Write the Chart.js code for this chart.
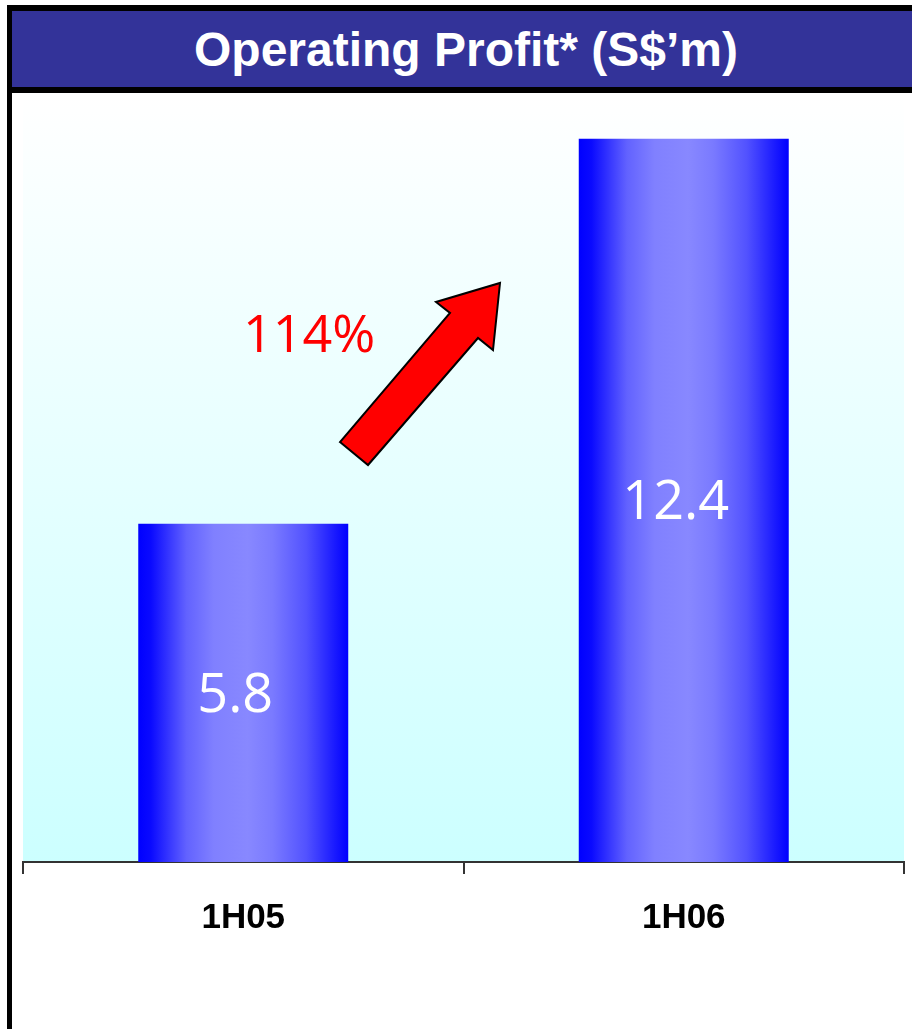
<!DOCTYPE html>
<html>
<head>
<meta charset="utf-8">
<script src="https://cdn.jsdelivr.net/npm/chart.js@4.4.1/dist/chart.umd.min.js"></script>
<style>
html,body{margin:0;padding:0;width:912px;height:1029px;overflow:hidden;background:#fff;}
#title{position:absolute;left:7px;top:5px;width:908px;height:76px;background:#333399;border-top:6px solid #000;border-bottom:6px solid #000;border-left:5px solid #000;color:#fff;font:bold 48px "Liberation Sans",Arial,sans-serif;display:flex;align-items:center;justify-content:center;z-index:2;white-space:nowrap;}
#leftline{position:absolute;left:7px;top:93px;width:5px;height:936px;background:#000;z-index:2;}
#wrap{position:absolute;left:0;top:0;width:912px;height:1029px;z-index:1;}
</style>
</head>
<body>
<div id="title">Operating Profit* (S$’m)</div>
<div id="leftline"></div>
<div id="wrap"><canvas id="c" width="912" height="1029"></canvas></div>
<script>
const categories = ['1H05', '1H06'];
const operatingProfit = [5.8, 12.4];
const growthLabel = '114%';
const yMin = 0;
const yMax = 13.15;

const BAR_PCT = 0.4767;

function barGradient(ctx) {
  const chart = ctx.chart;
  const xs = chart.scales.x;
  if (!xs || !chart.chartArea) return '#0000ff';
  const cat = (chart.chartArea.right - chart.chartArea.left) / categories.length;
  const w = cat * BAR_PCT;
  const cx = xs.getPixelForValue(ctx.dataIndex);
  const g = chart.ctx.createLinearGradient(cx - w / 2, 0, cx + w / 2, 0);
  g.addColorStop(0.0, '#0000ff');
  g.addColorStop(0.06, '#0a0aff');
  g.addColorStop(0.23, '#6262ff');
  g.addColorStop(0.36, '#8080ff');
  g.addColorStop(0.52, '#8888ff');
  g.addColorStop(0.64, '#7a7aff');
  g.addColorStop(0.80, '#5252ff');
  g.addColorStop(0.94, '#1818ff');
  g.addColorStop(1.0, '#0000ff');
  return g;
}

const plotBg = {
  id: 'plotBg',
  beforeDraw(chart) {
    const {ctx, chartArea: a} = chart;
    const g = ctx.createLinearGradient(0, a.top, 0, a.bottom);
    g.addColorStop(0, '#ffffff');
    g.addColorStop(1, '#ccffff');
    ctx.save();
    ctx.fillStyle = g;
    ctx.fillRect(a.left, a.top, a.right - a.left, a.bottom - a.top);
    ctx.restore();
  }
};

const annotations = {
  id: 'annotations',
  afterDatasetsDraw(chart) {
    const ctx = chart.ctx;
    const meta = chart.getDatasetMeta(0);
    ctx.save();
    // value labels inside bars
    ctx.fillStyle = '#ffffff';
    ctx.font = '54px "Open Sans", sans-serif';
    ctx.textAlign = 'center';
    ctx.textBaseline = 'alphabetic';
    meta.data.forEach((el, i) => {
      const mid = (el.y + el.base) / 2;
      ctx.fillText(operatingProfit[i].toFixed(1), el.x - 8, mid + 19);
    });
    // growth label
    ctx.fillStyle = '#ff0000';
    ctx.font = '52px "Open Sans", sans-serif';
    ctx.textAlign = 'left';
    ctx.fillText(growthLabel, 243, 352);
    // arrow
    const pts = [[340,442],[368,465],[478,338],[493,350],[500,283],[436,302],[450,313]];
    ctx.beginPath();
    ctx.moveTo(pts[0][0], pts[0][1]);
    for (let k = 1; k < pts.length; k++) ctx.lineTo(pts[k][0], pts[k][1]);
    ctx.closePath();
    ctx.fillStyle = '#ff0000';
    ctx.fill();
    ctx.lineWidth = 2;
    ctx.lineJoin = 'miter';
    ctx.strokeStyle = '#000000';
    ctx.stroke();
    ctx.restore();
  }
};

new Chart(document.getElementById('c'), {
  type: 'bar',
  data: {
    labels: categories,
    datasets: [{
      data: operatingProfit,
      backgroundColor: barGradient,
      borderWidth: 0,
      barPercentage: BAR_PCT,
      categoryPercentage: 1.0
    }]
  },
  options: {
    responsive: false,
    devicePixelRatio: 1,
    animation: false,
    layout: { padding: { left: 23, right: 8, top: 95, bottom: 67 } },
    plugins: { legend: { display: false }, tooltip: { enabled: false }, title: { display: false } },
    scales: {
      y: { display: false, min: yMin, max: yMax },
      x: {
        grid: { display: true, drawOnChartArea: false, drawTicks: true, tickLength: 12, color: '#333333', lineWidth: 2, offset: true },
        border: { display: true, color: '#333333', width: 2 },
        ticks: { color: '#000000', padding: 23, font: { family: '"Liberation Sans", Arial, sans-serif', size: 35, weight: 'bold' } }
      }
    }
  },
  plugins: [plotBg, annotations]
});
</script>
</body>
</html>
